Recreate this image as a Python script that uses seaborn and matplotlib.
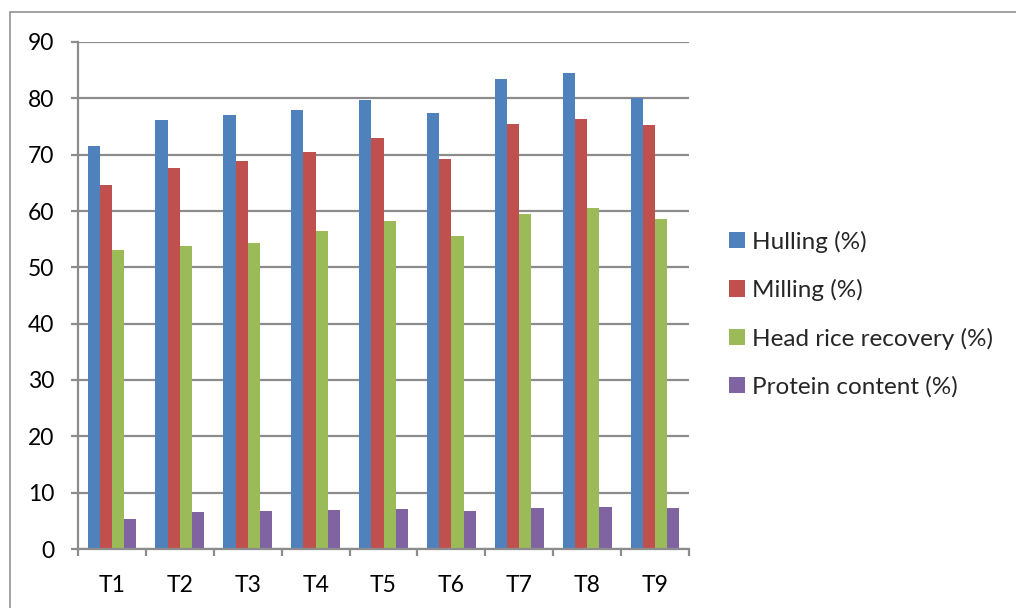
import matplotlib
matplotlib.use("Agg")
import matplotlib.pyplot as plt
from matplotlib.patches import Rectangle, Patch
from matplotlib.ticker import FixedLocator, MultipleLocator
import seaborn as sns
import pandas as pd

treatments = ["T1", "T2", "T3", "T4", "T5", "T6", "T7", "T8", "T9"]
hulling = [71.5, 76.2, 77.0, 77.9, 79.7, 77.4, 83.4, 84.5, 80.1]
milling = [64.6, 67.7, 68.8, 70.5, 72.9, 69.2, 75.5, 76.3, 75.3]
head_rice = [53.0, 53.7, 54.4, 56.5, 58.3, 55.5, 59.4, 60.5, 58.5]
protein = [5.3, 6.6, 6.7, 7.0, 7.1, 6.8, 7.3, 7.4, 7.2]

series_names = ["Hulling (%)", "Milling (%)", "Head rice recovery (%)", "Protein content (%)"]
series_values = [hulling, milling, head_rice, protein]
colors = ["#4F81BD", "#C0504D", "#9BBB59", "#8064A2"]

df = pd.DataFrame(
    [(t, name, v) for name, vals in zip(series_names, series_values)
     for t, v in zip(treatments, vals)],
    columns=["Treatment", "Parameter", "Value"],
)

sns.set_theme(style="white")
plt.rcParams["font.family"] = ["Lato", "DejaVu Sans"]

fig = plt.figure(figsize=(10.16, 6.08), dpi=100)
ax = fig.add_axes([78 / 1016, 1 - 549 / 608, (689 - 78) / 1016, (549 - 42) / 608])

sns.barplot(
    data=df, x="Treatment", y="Value", hue="Parameter",
    hue_order=series_names, order=treatments, palette=colors,
    width=0.72, saturation=1, ax=ax, legend=False,
)
for bar in ax.patches:
    bar.set_edgecolor("none")

grid_color = "#8C8C8C"
ax.set_ylim(0, 90)
ax.set_xlim(-0.5, len(treatments) - 0.5)
ax.yaxis.set_major_locator(MultipleLocator(10))
ax.yaxis.grid(True, color=grid_color, linewidth=1.6)
ax.set_axisbelow(True)

ax.xaxis.set_minor_locator(FixedLocator([i - 0.5 for i in range(len(treatments) + 1)]))
ax.tick_params(axis="x", which="major", length=0, pad=18.5, labelsize=16.5, colors="black")
ax.tick_params(axis="x", which="minor", length=5, width=1.6, color=grid_color, bottom=True)
ax.tick_params(axis="y", which="major", length=5, width=1.6, color=grid_color, left=True,
               pad=12, labelsize=16.5, labelcolor="black")

for side in ["top", "right"]:
    ax.spines[side].set_visible(False)
for side in ["left", "bottom"]:
    ax.spines[side].set_color(grid_color)
    ax.spines[side].set_linewidth(1.6)

ax.set_xlabel("")
ax.set_ylabel("")

handles = [Patch(facecolor=c, edgecolor="none") for c in colors]
fig.legend(
    handles, series_names, loc="center left",
    bbox_to_anchor=(729 / 1016, 1 - 314 / 608),
    frameon=False, fontsize=17.5, handlelength=0.66, handleheight=0.66,
    handletextpad=0.28, labelspacing=1.08, borderaxespad=0, borderpad=0,
)

fig.patches.append(Rectangle((10 / 1016, -0.1), 1.2, 1 - 12 / 608 + 0.1,
                             transform=fig.transFigure, fill=False,
                             edgecolor="#9A9A9A", linewidth=1.3))

fig.savefig("out.png", dpi=100, facecolor="white")
